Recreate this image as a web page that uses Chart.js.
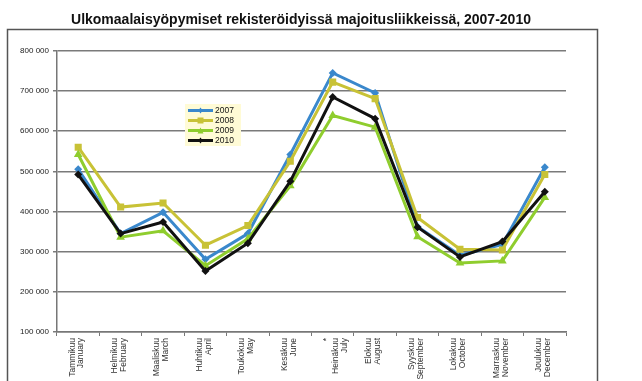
<!DOCTYPE html>
<html>
<head>
<meta charset="utf-8">
<script src="https://cdn.jsdelivr.net/npm/chart.js@4/dist/chart.umd.min.js"></script>
<style>
  html, body { margin: 0; padding: 0; background: #ffffff; }
  #wrap { position: relative; width: 642px; height: 381px; }
</style>
</head>
<body>
<div id="wrap"><canvas id="c" width="642" height="381"></canvas></div>
<script>
const titleText = 'Ulkomaalaisyöpymiset rekisteröidyissä majoitusliikkeissä, 2007-2010';
const categories = [
  ['Tammikuu', 'January'],
  ['Helmikuu', 'February'],
  ['Maaliskuu', 'March'],
  ['Huhtikuu', 'April'],
  ['Toukokuu', 'May'],
  ['Kesäkuu', 'June'],
  ['*', 'Heinäkuu', 'July'],
  ['Elokuu', 'August'],
  ['Syyskuu', 'September'],
  ['Lokakuu', 'October'],
  ['Marraskuu', 'November'],
  ['Joulukuu', 'December']
];
const seriesNames = ['2007', '2008', '2009', '2010'];
const values2007 = [505000, 345000, 398000, 281000, 345000, 542000, 745000, 695000, 362000, 291000, 318000, 510000];
const values2008 = [560000, 411000, 421000, 316000, 365000, 525000, 722000, 681000, 385000, 306000, 304000, 492000];
const values2009 = [542000, 336000, 352000, 265000, 332000, 464000, 639000, 610000, 337000, 272000, 277000, 435000];
const values2010 = [492000, 345000, 374000, 252000, 321000, 475000, 685000, 631000, 361000, 287000, 325000, 449000];
const yTicks = [100000, 200000, 300000, 400000, 500000, 600000, 700000, 800000];

const colors = ['#3a88cc', '#c8c236', '#8fcd2e', '#111111'];
const markers = ['rectRot', 'rect', 'triangle', 'rectRot'];
const markerSizes = [4, 5, 5, 4];
const allValues = [values2007, values2008, values2009, values2010];

const datasets = seriesNames.map((name, i) => ({
  label: name,
  data: allValues[i],
  borderColor: colors[i],
  backgroundColor: colors[i],
  borderWidth: 3,
  pointStyle: markers[i],
  pointRadius: markerSizes[i],
  pointBorderWidth: 0,
  pointBackgroundColor: colors[i],
  tension: 0,
  order: seriesNames.length - i
}));

function fmt(v) {
  return String(v).replace(/\B(?=(\d{3})+(?!\d))/g, ' ');
}

const framePlugin = {
  id: 'frame',
  beforeDraw(chart) {
    const ctx = chart.ctx;
    ctx.save();
    ctx.fillStyle = '#ffffff';
    ctx.fillRect(0, 0, chart.width, chart.height);
    ctx.strokeStyle = '#555555';
    ctx.lineWidth = 1.5;
    ctx.strokeRect(7.5, 29.5, 590, 400);
    ctx.restore();
  }
};

const legendPlugin = {
  id: 'boxLegend',
  afterDatasetsDraw(chart) {
    const ctx = chart.ctx;
    const x0 = 185, y0 = 104, w = 56, h = 42;
    ctx.save();
    ctx.fillStyle = '#fffbd6';
    ctx.fillRect(x0, y0, w, h);
    ctx.font = '8.5px "Liberation Sans", Arial, sans-serif';
    ctx.textBaseline = 'middle';
    ctx.textAlign = 'left';
    chart.data.datasets.forEach((ds, i) => {
      const y = y0 + 6.5 + i * 10;
      ctx.strokeStyle = ds.borderColor;
      ctx.lineWidth = 3;
      ctx.beginPath();
      ctx.moveTo(x0 + 3, y);
      ctx.lineTo(x0 + 28, y);
      ctx.stroke();
      ctx.fillStyle = ds.borderColor;
      const cx = x0 + 15.5, r = 3;
      ctx.beginPath();
      if (i === 1) { ctx.rect(cx - r, y - r, 2 * r, 2 * r); }
      else if (i === 2) { ctx.moveTo(cx, y - r); ctx.lineTo(cx + r, y + r); ctx.lineTo(cx - r, y + r); ctx.closePath(); }
      else { ctx.moveTo(cx, y - r); ctx.lineTo(cx + r * 0.7, y); ctx.lineTo(cx, y + r); ctx.lineTo(cx - r * 0.7, y); ctx.closePath(); }
      ctx.fill();
      ctx.fillStyle = '#111111';
      ctx.fillText(ds.label, x0 + 30, y + 0.5);
    });
    ctx.restore();
  }
};

new Chart(document.getElementById('c'), {
  type: 'line',
  data: { labels: categories, datasets: datasets },
  plugins: [framePlugin, legendPlugin],
  options: {
    responsive: false,
    animation: false,
    layout: { padding: { left: 0, right: 40, top: 0, bottom: 0 } },
    plugins: {
      legend: { display: false },
      tooltip: { enabled: false },
      title: {
        display: true,
        text: titleText,
        color: '#111111',
        font: { family: '"Liberation Sans", Arial, sans-serif', size: 14, weight: 'bold' },
        padding: { top: 12, bottom: 22 }
      }
    },
    scales: {
      x: {
        offset: true,
        grid: { offset: true, drawOnChartArea: false, drawTicks: true, tickLength: 4, color: '#777777', lineWidth: 1 },
        border: { display: true, color: '#777777', width: 1.5 },
        ticks: {
          autoSkip: false,
          maxRotation: 90,
          minRotation: 90,
          padding: 2,
          labelOffset: -6,
          color: '#333333',
          font: { family: '"Liberation Sans", Arial, sans-serif', size: 8.5, lineHeight: 1.05 }
        },
        afterFit(scale) { scale.height = 49; }
      },
      y: {
        min: 100000,
        max: 800000,
        afterBuildTicks(scale) { scale.ticks = yTicks.map(v => ({ value: v })); },
        grid: { color: '#7a7a7a', lineWidth: 1.5, drawTicks: true, tickLength: 4 },
        border: { display: true, color: '#777777', width: 1.5 },
        ticks: {
          padding: 4,
          color: '#222222',
          font: { family: '"Liberation Sans", Arial, sans-serif', size: 8 },
          callback: (v) => fmt(v)
        },
        afterFit(scale) { scale.width = 57; }
      },
      yRight: {
        position: 'right',
        display: true,
        grid: { display: false, drawTicks: false },
        border: { display: false },
        ticks: { display: false },
        afterFit(scale) { scale.width = 36; }
      }
    }
  }
});
</script>
</body>
</html>
